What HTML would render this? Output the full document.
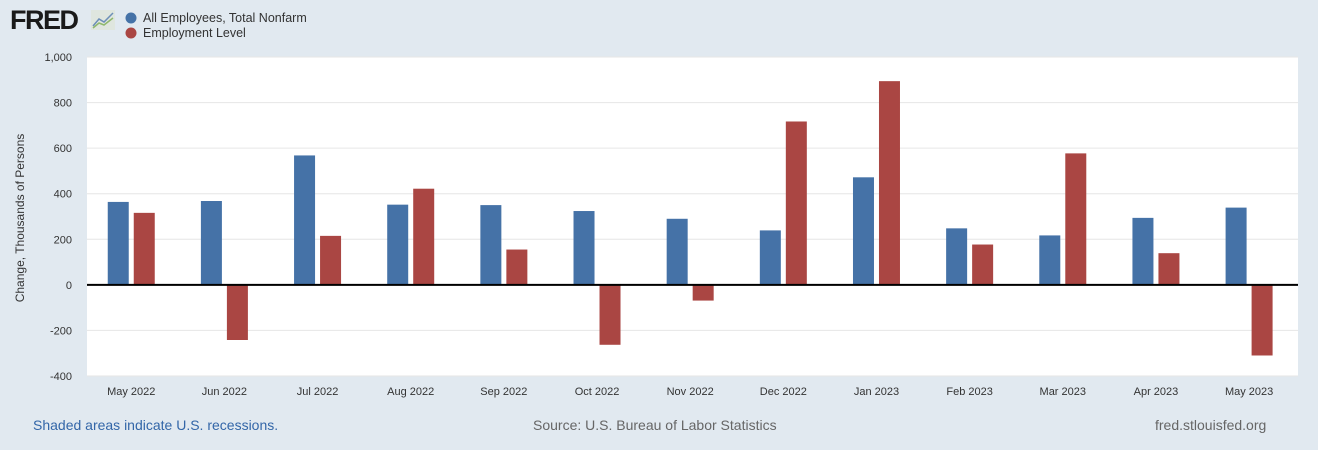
<!DOCTYPE html>
<html><head><meta charset="utf-8"><style>
body{margin:0;background:#e1e9f0;font-family:"Liberation Sans",Arial,sans-serif;}
#wrap{position:relative;width:1318px;height:450px;overflow:hidden;}
.t{position:absolute;white-space:nowrap;}
</style></head><body>
<div id="wrap">
<div class="t" style="left:10px;top:5px;font-size:27px;font-weight:900;color:#1a1a1a;letter-spacing:-1.5px;">FRED</div>
<svg style="position:absolute;left:91px;top:10px" width="24" height="20"><rect width="24" height="20" fill="#dfe6df"/><polyline points="2,16 8,9 13,12 22,3" fill="none" stroke="#6d8fb8" stroke-width="1.5"/><polyline points="2,18 8,13 13,15 22,8" fill="none" stroke="#8fb86d" stroke-width="1.5"/></svg>
<svg style="position:absolute;left:125px;top:12px" width="12" height="30"><circle cx="6" cy="6" r="5.5" fill="#4572a7"/><circle cx="6" cy="21" r="5.5" fill="#aa4643"/></svg>
<div class="t" style="left:143px;top:11px;font-size:12.5px;color:#333;">All Employees, Total Nonfarm</div>
<div class="t" style="left:143px;top:26px;font-size:12.5px;color:#333;">Employment Level</div>
<svg id="chart" style="position:absolute;left:0;top:0" width="1318" height="450"></svg>
<div class="t" style="left:20px;top:218px;font-size:12px;color:#333;transform:translate(-50%,-50%) rotate(-90deg);">Change, Thousands of Persons</div>
<div class="t" style="left:33px;top:417px;font-size:14px;color:#3366a8;">Shaded areas indicate U.S. recessions.</div>
<div class="t" style="left:533px;top:417px;font-size:14px;color:#666;">Source: U.S. Bureau of Labor Statistics</div>
<div class="t" style="left:1155px;top:417px;font-size:14px;color:#666;">fred.stlouisfed.org</div>
</div>
<script>
const categories=["May 2022","Jun 2022","Jul 2022","Aug 2022","Sep 2022","Oct 2022","Nov 2022","Dec 2022","Jan 2023","Feb 2023","Mar 2023","Apr 2023","May 2023"];
const nonfarm=[364,368,568,352,350,324,290,239,472,248,217,294,339];
const employmentLevel=[316,-242,215,422,155,-263,-69,717,894,177,577,139,-310];
const yTicks=[-400,-200,0,200,400,600,800,1000];
const yTickLabels=["-400","-200","0","200","400","600","800","1,000"];
const NS="http://www.w3.org/2000/svg";
const svg=document.getElementById('chart');
const L=87,R=1298,T=57,B=376,yMin=-400,yMax=1000;
const y=v=>T+(yMax-v)/(yMax-yMin)*(B-T);
const bw=(R-L)/categories.length;
const xc=i=>L+bw*(i+0.475);
function mk(tag,a){const e=document.createElementNS(NS,tag);for(const k in a)e.setAttribute(k,a[k]);svg.appendChild(e);return e;}
const bg=mk('rect',{x:L,y:T,width:R-L,height:B-T,fill:'#fff'});


yTicks.forEach((t,i)=>{
 const g=mk('line',{x1:L,x2:R,y1:y(t),y2:y(t),stroke:'#e6e6e6'});
 
 
 const tx=mk('text',{x:72,y:y(t)+4,'text-anchor':'end','font-size':11,fill:'#333','font-family':'Liberation Sans, sans-serif'});
 tx.textContent=yTickLabels[i];
 
 
});
const w=21;
categories.forEach((c,i)=>{
 const cx=xc(i);
 const v1=nonfarm[i],v2=employmentLevel[i];
 const b1=mk('rect',{x:cx-w-2.5,y:Math.min(y(v1),y(0)),width:w,height:Math.abs(y(v1)-y(0)),fill:'#4572a7'});
 
 
 const b2=mk('rect',{x:cx+2.5,y:Math.min(y(v2),y(0)),width:w,height:Math.abs(y(v2)-y(0)),fill:'#aa4643'});
 
 
 const tx=mk('text',{x:cx,y:B+19,'text-anchor':'middle','font-size':11,fill:'#333','font-family':'Liberation Sans, sans-serif'});
 tx.textContent=c;
 
 
});
const z=mk('line',{x1:L,x2:R,y1:y(0),y2:y(0),stroke:'#000','stroke-width':2});


</script>
</body></html>
